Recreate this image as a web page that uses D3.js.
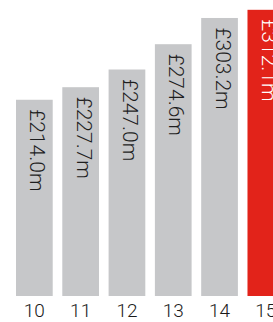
<!DOCTYPE html>
<html lang="en">
<head>
    <meta charset="UTF-8">
    <title>Revenue bars</title>
    <script src="https://d3js.org/d3.v7.min.js"></script>
    <style>
        body{
            margin: 0;
            background-color: white;
        }
        svg text{
            font-family: Roboto, "DejaVu Sans", sans-serif;
            font-weight: 300;
        }
    </style>
</head>
<body>
<svg id="canvas" width="273" height="322"></svg>
<script>
    // years and values (£m)
    let years = ["10", "11", "12", "13", "14", "15"];
    let values = [214.0, 227.7, 247.0, 274.6, 303.2, 312.1];
    let labels = ["£214.0m", "£227.7m", "£247.0m", "£274.6m", "£303.2m", "£312.1m"];
    let highlight = "15";

    let svg = d3.select('#canvas');

    let x = d3.scaleBand()
        .domain(years)
        .range([16, 284.2])
        .paddingInner(0.207)
        .paddingOuter(0);

    let y = d3.scaleLinear()
        .domain([0, 322.8])
        .range([296, 0]);

    let bars = svg.append('g');
    bars.selectAll('rect')
        .data(years)
        .enter()
        .append('rect')
        .attr("x", d => x(d))
        .attr("width", x.bandwidth())
        .attr("y", (d, i) => y(values[i]))
        .attr("height", (d, i) => y(0) - y(values[i]))
        .attr("fill", d => d === highlight ? "#e2231a" : "#c6c7c9");

    // value labels, rotated to read top-down
    bars.selectAll('text.val')
        .data(years)
        .enter()
        .append('text')
        .attr("class", "val")
        .attr("transform", (d, i) => "translate(" + (x(d) + x.bandwidth() / 2) + "," + (y(values[i]) + 9.5) + ") rotate(90)")
        .attr("x", 0)
        .attr("y", 4)
        .attr("font-size", "21px")
        .attr("fill", d => d === highlight ? "white" : "#1e1e1e")
        .text((d, i) => labels[i]);

    // year labels
    svg.append('g').selectAll('text')
        .data(years)
        .enter()
        .append('text')
        .attr("x", d => x(d) + x.bandwidth() / 2)
        .attr("y", 317)
        .attr("text-anchor", "middle")
        .attr("font-size", "19px")
        .attr("fill", "#1a1a1a")
        .text(d => d);
</script>
</body>
</html>
